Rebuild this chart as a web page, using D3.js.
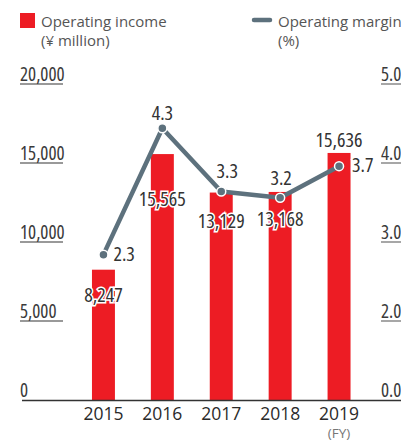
<!DOCTYPE html>
<html>
<head>
<meta charset="utf-8">
<script src="https://cdn.jsdelivr.net/npm/d3@7"></script>
<style>
  body { margin: 0; background: #fff; }
  .num { font-family: "Open Sans", sans-serif; font-stretch: condensed; }
  .txt { font-family: "Open Sans", "Noto Sans", sans-serif; }
</style>
</head>
<body>
<div id="chart"></div>
<script>
// data
var years = ["2015", "2016", "2017", "2018", "2019"];
var income = [8247, 15565, 13129, 13168, 15636];
var margin = [2.3, 4.3, 3.3, 3.2, 3.7];
var incomeTicks = [0, 5000, 10000, 15000, 20000];
var marginTicks = ["0.0", "2.0", "3.0", "4.0", "5.0"];

// hand placement of the value labels (px from the mark)
var incomeDy = [32, 52, 35, 34, -6];
var marginPos = [[10, 6, "start"], [0, -8, "middle"], [6, -13, "middle"], [1, -13, "middle"], [13, 6, "start"]];

var W = 401, H = 441;
var red = "#ed1c24", grey = "#5d717d";

var svg = d3.select("#chart").append("svg")
  .attr("width", W).attr("height", H);

var x = d3.scaleBand()
  .domain(years)
  .range([74, 368.5])
  .paddingInner(0.61).paddingOuter(0.305);

var y = d3.scaleLinear().domain([0, 20000]).range([400, 84]);
var y2 = d3.scaleLinear().domain([0, 5]).range([400, 84]);
// right hand labels sit evenly beside the left ones
var y2Lab = d3.scalePoint().domain(marginTicks).range([400, 84]);

// left ticks
var lt = svg.append("g");
lt.selectAll("line").data(incomeTicks.filter(d => d > 0)).enter().append("line")
  .attr("x1", 20).attr("x2", 63)
  .attr("y1", d => y(d)).attr("y2", d => y(d))
  .attr("stroke", "#777").attr("stroke-width", 1.3);
lt.selectAll("text").data(incomeTicks).enter().append("text")
  .attr("class", "num")
  .attr("x", 20).attr("y", d => y(d) - 3)
  .attr("font-size", 19).attr("fill", "#3a3a3a")
  .text(d => d3.format(",")(d));

// right ticks
var rt = svg.append("g");
rt.selectAll("line").data(marginTicks.filter(d => d != "0.0")).enter().append("line")
  .attr("x1", 381).attr("x2", 401)
  .attr("y1", d => y2Lab(d)).attr("y2", d => y2Lab(d))
  .attr("stroke", "#777").attr("stroke-width", 1.3);
rt.selectAll("text").data(marginTicks).enter().append("text")
  .attr("class", "num")
  .attr("x", 381).attr("y", d => y2Lab(d) - 3)
  .attr("font-size", 19).attr("fill", "#3a3a3a")
  .text(d => d);

// bars
svg.selectAll("rect.bar").data(income).enter().append("rect")
  .attr("class", "bar")
  .attr("x", (d, i) => x(years[i]))
  .attr("y", d => y(d))
  .attr("width", x.bandwidth())
  .attr("height", d => y(0) - y(d))
  .attr("fill", red);

// base line
svg.append("line")
  .attr("x1", 22).attr("x2", 401).attr("y1", 400.5).attr("y2", 400.5)
  .attr("stroke", "#333").attr("stroke-width", 1.5);

// income labels
svg.selectAll("text.inc").data(income).enter().append("text")
  .attr("class", "num inc")
  .attr("x", (d, i) => x(years[i]) + x.bandwidth() / 2)
  .attr("y", (d, i) => y(d) + incomeDy[i])
  .attr("text-anchor", "middle")
  .attr("font-size", 20).attr("fill", "#333")
  .attr("stroke", "#fff").attr("stroke-width", 3).attr("paint-order", "stroke")
  .text(d => d3.format(",")(d));

// margin line
var cx = (d, i) => x(years[i]) + x.bandwidth() / 2;
var line = d3.line().x(cx).y(d => y2(d));
svg.append("path").datum(margin)
  .attr("d", line)
  .attr("fill", "none").attr("stroke", grey).attr("stroke-width", 4.5)
  .attr("stroke-linejoin", "round");
svg.selectAll("circle").data(margin).enter().append("circle")
  .attr("cx", cx).attr("cy", d => y2(d)).attr("r", 4.5)
  .attr("fill", grey).attr("stroke", "#fff").attr("stroke-width", 1.5);

svg.selectAll("text.mar").data(margin).enter().append("text")
  .attr("class", "num mar")
  .attr("x", (d, i) => cx(d, i) + marginPos[i][0])
  .attr("y", (d, i) => y2(d) + marginPos[i][1])
  .attr("text-anchor", (d, i) => marginPos[i][2])
  .attr("font-size", 20).attr("fill", "#333")
  .attr("stroke", "#fff").attr("stroke-width", 3).attr("paint-order", "stroke")
  .text(d => d3.format(".1f")(d));

// year axis
svg.selectAll("text.yr").data(years).enter().append("text")
  .attr("class", "txt yr")
  .attr("x", d => x(d) + x.bandwidth() / 2)
  .attr("y", 420)
  .attr("text-anchor", "middle")
  .attr("font-size", 17.5).attr("fill", "#2a2a2a")
  .text(d => d);
svg.append("text").attr("class", "txt")
  .attr("x", x("2019") + x.bandwidth() / 2).attr("y", 438)
  .attr("text-anchor", "middle")
  .attr("font-size", 13.5).attr("fill", "#777")
  .text("(FY)");

// legend
svg.append("rect").attr("x", 20).attr("y", 13).attr("width", 15).attr("height", 15).attr("fill", red);
svg.append("text").attr("class", "txt").attr("x", 41).attr("y", 27)
  .attr("font-size", 15).attr("fill", "#555").text("Operating income");
svg.append("text").attr("class", "txt").attr("x", 41).attr("y", 46)
  .attr("font-size", 15).attr("fill", "#555").text("(¥ million)");

svg.append("line").attr("x1", 254).attr("x2", 270).attr("y1", 20).attr("y2", 20)
  .attr("stroke", grey).attr("stroke-width", 4.5).attr("stroke-linecap", "round");
svg.append("text").attr("class", "txt").attr("x", 278).attr("y", 27)
  .attr("font-size", 15).attr("fill", "#555").text("Operating margin");
svg.append("text").attr("class", "txt").attr("x", 278).attr("y", 46)
  .attr("font-size", 15).attr("fill", "#555").text("(%)");
</script>
</body>
</html>
